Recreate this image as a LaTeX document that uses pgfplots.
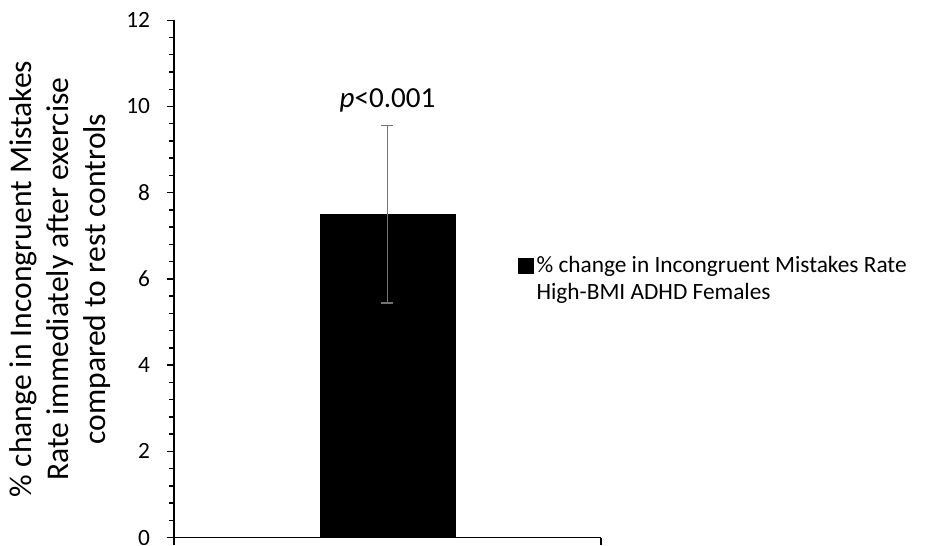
\documentclass[border=0pt]{standalone}
\usepackage{fontspec}
\setmainfont{Carlito}
\usepackage{pgfplots}
\pgfplotsset{compat=1.18}

\begin{document}
\begin{tikzpicture}
\begin{axis}[
  at={(0pt,0pt)}, anchor=south west,
  scale only axis,
  width=320.25pt, height=388pt,
  xmin=-1, xmax=1,
  ymin=0, ymax=12,
  axis x line=bottom, axis y line=left,
  axis line style={-, line width=1.1pt, black},
  ytick={0,2,...,12},
  minor y tick num=4,
  xtick={-1,1}, xticklabels={},
  tick align=outside,
  major tick length=5.5pt, minor tick length=4pt,
  tick style={line width=1.1pt, black},
  y tick label style={font=\fontsize{17.5}{20}\selectfont, xshift=-9pt},
  /pgf/number format/assume math mode=true,
  ylabel={\% change in Incongruent Mistakes\\Rate immediately after exercise\\compared to rest controls},
  ylabel style={font=\fontsize{23.7}{27.8}\selectfont, align=center,
    at={(axis description cs:-0.267,0.5)}, anchor=center},
  legend style={draw=none, fill=none, inner sep=0pt,
    at={(rel axis cs:0.806,0.5)}, anchor=west,
    font=\fontsize{17.5}{20}\selectfont,
    cells={align=left}},
  legend image code/.code={%
    \fill[black] (0,4.6pt) rectangle (11.2pt,15.8pt);
    \path (0,-15.8pt);},
  clip=false,
]
\addplot[ybar, bar width=101pt, fill=black, draw=black,
  error bars/.cd, y dir=both, y explicit, error mark=|,
  error bar style={line width=1.3pt, color=black!55},
  error mark options={mark size=4.5pt, line width=1.3pt, color=black!55}]
  coordinates {(0,7.5) +- (0,2.06)};
\addlegendentry{\% change in Incongruent Mistakes Rate\\High-BMI ADHD Females}
\node[font=\fontsize{21.8}{26}\selectfont] at (axis cs:0,10.13) {\textit{p}<0.001};
\end{axis}
% page frame: 925 x 546 px at 0.75pt per px
\pgfresetboundingbox
\path[use as bounding box] (-130.5pt,-6.3pt) rectangle (563.25pt,403.2pt);
\end{tikzpicture}
\end{document}
